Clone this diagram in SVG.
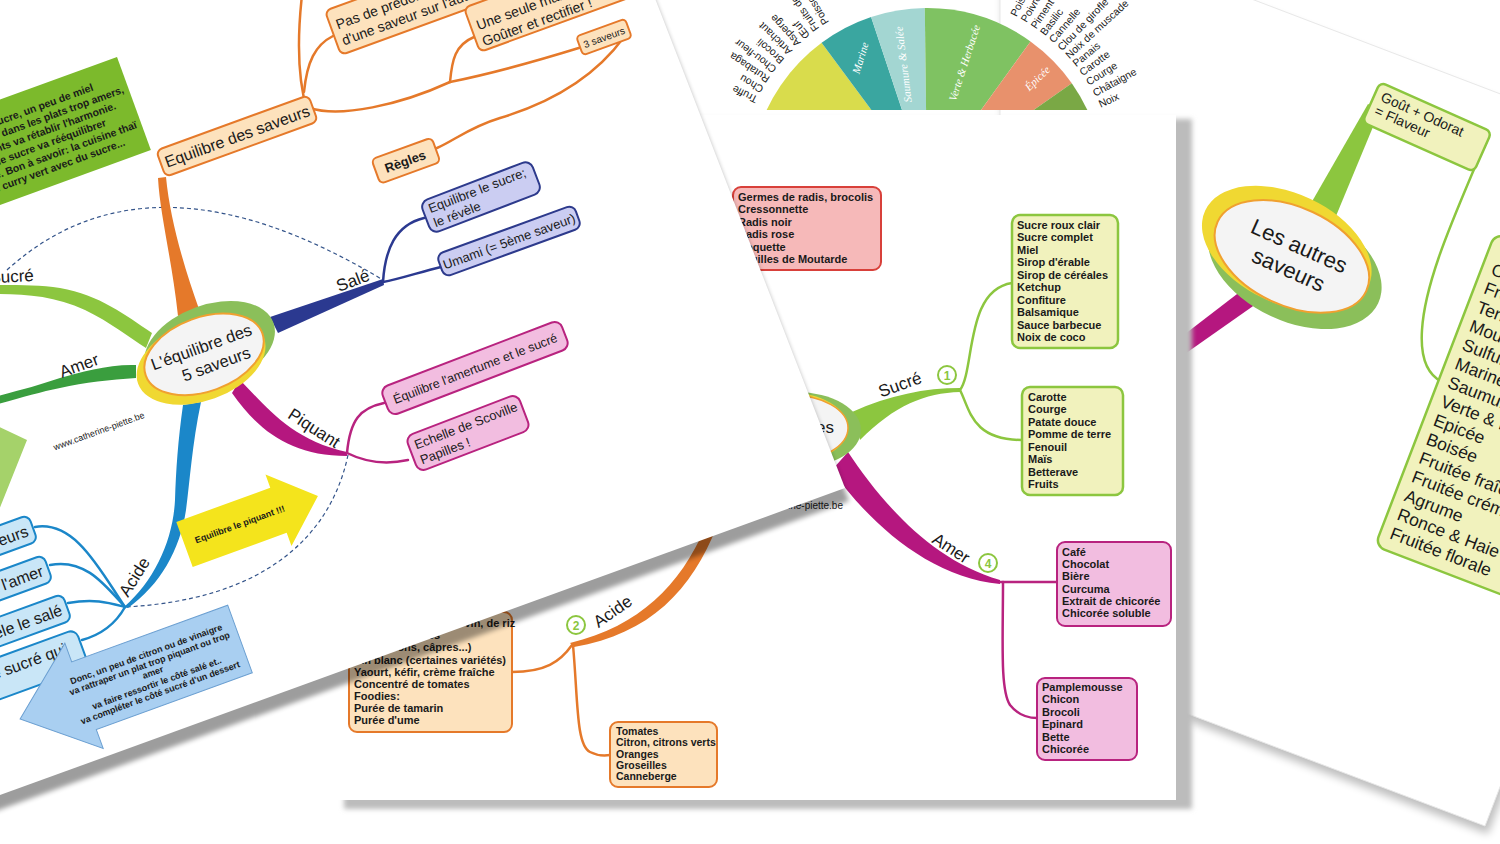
<svg xmlns="http://www.w3.org/2000/svg" width="1500" height="844" viewBox="0 0 1500 844">
<defs>
<style>
text{font-family:"Liberation Sans",Arial,sans-serif;fill:#1a1a1a}
.b{font-weight:bold}
.f11{font-size:11px}
.f13{font-size:13px}
.f14{font-size:14px}
.f17{font-size:17px}
.or{fill:#fde2bd;stroke:#e5792a;stroke-width:2}
.pk{fill:#f2bde0;stroke:#b8237f;stroke-width:2}
.nv{fill:#cbcdf2;stroke:#2d3a8c;stroke-width:2}
.lb{fill:#c9e6f7;stroke:#1b87c9;stroke-width:2}
.yg{fill:#f1f2bd;stroke:#8cc63f;stroke-width:2.5}
.rd{fill:#f6b9b9;stroke:#d8403a;stroke-width:2}
.ln{fill:none;stroke-width:2.5;stroke-linecap:round}
.lo{stroke:#e5792a}.lp{stroke:#b8237f}.ln2{stroke:#2b3990}.lbl{stroke:#1b87c9}.lg{stroke:#8cc63f}
.dash{fill:none;stroke:#34548a;stroke-width:1.2;stroke-dasharray:4 3}
.num{fill:#fff;stroke:#8cc63f;stroke-width:2}
.numt{font-size:12px;font-weight:bold;fill:#8cc63f;text-anchor:middle}
.wl{font-family:"Liberation Serif","Times New Roman",serif;font-size:10.5px;fill:#666}
.ws{font-family:"Liberation Serif","Times New Roman",serif;font-size:11px;font-style:italic;fill:#fff;text-anchor:middle}
.mid{text-anchor:middle}
.end{text-anchor:end}
</style>
<filter id="bl4" x="-10%" y="-10%" width="120%" height="120%"><feGaussianBlur stdDeviation="4"/></filter>
<filter id="bl3" x="-10%" y="-10%" width="120%" height="120%"><feGaussianBlur stdDeviation="2.5"/></filter>
<clipPath id="wclip"><rect x="700" y="0" width="460" height="110"/></clipPath>
<clipPath id="lclip"><polygon points="-30,-30 644,-30 845,488 -30,806"/></clipPath>
<clipPath id="rclip"><polygon points="1000,-97 1600,132 1600,526 1485,826 1000,643"/></clipPath>
</defs>
<rect width="1500" height="844" fill="#fff"/>

<!-- RIGHT PAGE (back) -->
<g id="right-page">
<polygon points="1000,-97 1600,132 1600,526 1485,826 1000,643" fill="#000" opacity="0.25" transform="translate(3,8)" filter="url(#bl4)"/>
<polygon points="1000,-97 1600,132 1600,526 1485,826 1000,643" fill="#fff" stroke="#e8e8e8" stroke-width="1"/>
<g clip-path="url(#rclip)">
<g id="rp-connectors">
<polygon points="1254,281 1266,297 1182,356 1172,344" fill="#b5177f"/>
<polygon points="1306,212 1368,104 1380,110 1336,216" fill="#8cc63f"/>
<path class="ln lg" d="M1480,155 C1455,215 1425,280 1422,330 C1420,360 1428,375 1442,382"/>
</g>
<g id="rp-center" transform="rotate(25,1291,256)">
<ellipse cx="1298" cy="262" rx="92" ry="57" fill="#8bbf5a"/>
<ellipse cx="1284" cy="251" rx="90" ry="55" fill="#f0d832"/>
<ellipse cx="1292" cy="256" rx="82" ry="49" fill="#f4f4f4" stroke="#f0a030" stroke-width="2"/>
</g>
<g transform="rotate(24,1292,262)">
<text x="1292" y="252" class="mid" font-size="22">Les autres</text>
<text x="1292" y="278" class="mid" font-size="22">saveurs</text>
</g>
<g id="rp-flaveur" transform="rotate(24,1427,127)">
<rect x="1366" y="105" width="122" height="44" rx="6" class="yg"/>
<text x="1373" y="122" class="f14">Goût + Odorat</text>
<text x="1373" y="137" class="f14">= Flaveur</text>
</g>
<g id="rp-list" transform="rotate(21,1375,546)">
<rect x="1375" y="211" width="300" height="335" rx="10" class="yg" stroke-width="3"/>
<g font-size="17.5">
<text x="1385" y="251">Carnée</text>
<text x="1385" y="271.2">Fromagère</text>
<text x="1385" y="291.4">Terreuse</text>
<text x="1385" y="311.6">Moutardée</text>
<text x="1385" y="331.8">Sulfureuse</text>
<text x="1385" y="352">Marine</text>
<text x="1385" y="372.2">Saumure &amp; Salée</text>
<text x="1385" y="392.4">Verte &amp; Herbacée</text>
<text x="1385" y="412.6">Epicée</text>
<text x="1385" y="432.8">Boisée</text>
<text x="1385" y="453">Fruitée fraîche</text>
<text x="1385" y="473.2">Fruitée crémeuse</text>
<text x="1385" y="493.4">Agrume</text>
<text x="1385" y="513.6">Ronce &amp; Haie</text>
<text x="1385" y="533.8">Fruitée florale</text>
</g>
</g>
</g>
</g>

<!-- MIDDLE PAGE -->
<g id="middle-page">
<rect x="344" y="119" width="848" height="690" fill="#bcbcbc" filter="url(#bl3)"/>
<rect x="338" y="115" width="838" height="685" fill="#fff"/>
<g id="mp-connectors">
<path d="M852,412 C890,395 925,388 960,388 L960,392 C925,393 895,405 860,440 Z" fill="#8cc63f"/>
<path class="ln lg" d="M960,390 C975,370 965,290 1012,283"/>
<path class="ln lg" d="M960,390 C970,410 972,440 1022,440"/>
<path d="M848,452 C880,500 930,560 1000,580 L1000,584 C930,578 868,522 832,470 Z" fill="#b5177f"/>
<path class="ln lp" d="M1000,582 L1057,582"/>
<path class="ln lp" d="M1003,582 C1003,640 1000,690 1010,705 C1018,715 1028,718 1037,718"/>
<path d="M705,528 L717,526 C692,590 650,634 574,647 L570,643 C640,626 680,585 705,528 Z" fill="#e5792a"/>
<path class="ln lo" d="M572,645 C560,662 545,672 512,672"/>
<path class="ln lo" d="M573,645 C578,700 576,745 590,752 C598,756 604,756 610,755"/>
</g>
<g id="mp-center">
<ellipse cx="797" cy="430" rx="64" ry="38" fill="#8bbf5a"/>
<ellipse cx="786" cy="428" rx="62" ry="36" fill="#f0d832"/>
<ellipse cx="790" cy="428" rx="58" ry="33" fill="#f4f4f4" stroke="#f0a030" stroke-width="1.5"/>
<text x="834" y="433" class="end f17">es</text>
</g>
<g id="mp-sucre-label">
<text x="902" y="390" class="mid f17" transform="rotate(-20,902,390)">Sucré</text>
<circle cx="947" cy="375" r="9" class="num"/><text x="947" y="379.5" class="numt">1</text>
</g>
<g id="mp-amer-label">
<text x="948" y="553" class="mid f17" transform="rotate(33,948,553)">Amer</text>
<circle cx="988" cy="563" r="9" class="num"/><text x="988" y="567.5" class="numt">4</text>
</g>
<g id="mp-acide-label">
<text x="616" y="616" class="mid f17" transform="rotate(-35,616,616)">Acide</text>
<circle cx="576" cy="625" r="9" class="num"/><text x="576" y="629.5" class="numt">2</text>
</g>
<g id="mp-piquant-box">
<rect x="733" y="187" width="148" height="83" rx="8" class="rd"/>
<g class="b f11">
<text x="738" y="201">Germes de radis, brocolis</text>
<text x="738" y="213.4">Cressonnette</text>
<text x="738" y="225.8">Radis noir</text>
<text x="738" y="238.2">Radis rose</text>
<text x="738" y="250.6">Roquette</text>
<text x="738" y="263">Feuilles de Moutarde</text>
</g>
</g>
<g id="mp-sucre-box1">
<rect x="1012" y="215" width="106" height="133" rx="8" class="yg"/>
<g class="b f11">
<text x="1017" y="229">Sucre roux clair</text>
<text x="1017" y="241.4">Sucre complet</text>
<text x="1017" y="253.9">Miel</text>
<text x="1017" y="266.3">Sirop d'érable</text>
<text x="1017" y="278.8">Sirop de céréales</text>
<text x="1017" y="291.2">Ketchup</text>
<text x="1017" y="303.6">Confiture</text>
<text x="1017" y="316.1">Balsamique</text>
<text x="1017" y="328.5">Sauce barbecue</text>
<text x="1017" y="341">Noix de coco</text>
</g>
</g>
<g id="mp-sucre-box2">
<rect x="1022" y="387" width="101" height="108" rx="8" class="yg"/>
<g class="b f11">
<text x="1028" y="401">Carotte</text>
<text x="1028" y="413.4">Courge</text>
<text x="1028" y="425.9">Patate douce</text>
<text x="1028" y="438.3">Pomme de terre</text>
<text x="1028" y="450.7">Fenouil</text>
<text x="1028" y="463.1">Maïs</text>
<text x="1028" y="475.6">Betterave</text>
<text x="1028" y="488">Fruits</text>
</g>
</g>
<g id="mp-amer-box1">
<rect x="1057" y="542" width="114" height="84" rx="8" class="pk"/>
<g class="b f11">
<text x="1062" y="556">Café</text>
<text x="1062" y="568.2">Chocolat</text>
<text x="1062" y="580.4">Bière</text>
<text x="1062" y="592.6">Curcuma</text>
<text x="1062" y="604.8">Extrait de chicorée</text>
<text x="1062" y="617">Chicorée soluble</text>
</g>
</g>
<g id="mp-amer-box2">
<rect x="1037" y="678" width="100" height="82" rx="8" class="pk"/>
<g class="b f11">
<text x="1042" y="691">Pamplemousse</text>
<text x="1042" y="703.4">Chicon</text>
<text x="1042" y="715.8">Brocoli</text>
<text x="1042" y="728.2">Epinard</text>
<text x="1042" y="740.6">Bette</text>
<text x="1042" y="753">Chicorée</text>
</g>
</g>
<g id="mp-acide-box1">
<rect x="349" y="612" width="163" height="120" rx="8" class="or"/>
<g class="b f11">
<text x="354" y="627">Vinaigre de cidre, de vin, de riz</text>
<text x="354" y="639">Autres vinaigres</text>
<text x="354" y="651">(cornichons, câpres...)</text>
<text x="354" y="664">Vin blanc (certaines variétés)</text>
<text x="354" y="676">Yaourt, kéfir, crème fraîche</text>
<text x="354" y="688">Concentré de tomates</text>
<text x="354" y="700">Foodies:</text>
<text x="354" y="712">Purée de tamarin</text>
<text x="354" y="724">Purée d'ume</text>
</g>
</g>
<g id="mp-acide-box2">
<rect x="610" y="722" width="107" height="65" rx="8" class="or"/>
<g class="b" font-size="10.5">
<text x="616" y="735">Tomates</text>
<text x="616" y="746.3">Citron, citrons verts</text>
<text x="616" y="757.6">Oranges</text>
<text x="616" y="768.9">Groseilles</text>
<text x="616" y="780.2">Canneberge</text>
</g>
</g>
<text x="843" y="509" class="end" font-size="10">www.catherine-piette.be</text>
</g>

<!-- WHEEL -->
<g id="wheel" clip-path="url(#wclip)">
<path d="M927,185 L756,139.2 A177,177 0 0 1 821.6,42.8 Z" fill="#d9dc4c"/>
<path d="M927,185 L821.6,42.8 A177,177 0 0 1 871.1,17 Z" fill="#3aa6a0"/>
<path d="M927,185 L871.1,17 A177,177 0 0 1 924.8,8 Z" fill="#a3d6d2"/>
<path d="M927,185 L924.8,8 A177,177 0 0 1 1030.5,41.4 Z" fill="#7fc262"/>
<path d="M927,185 L1030.5,41.4 A177,177 0 0 1 1071.8,83.2 Z" fill="#e8916c"/>
<path d="M927,185 L1071.8,83.2 A177,177 0 0 1 1101.3,154.3 Z" fill="#7aa845"/>
<text x="864" y="59" class="ws" transform="rotate(-73,864,59)">Marine</text>
<text x="907" y="64" class="ws" transform="rotate(-97,907,64)">Saumure &amp; Salée</text>
<text x="968" y="64" class="ws" transform="rotate(-72,968,64)">Verte &amp; Herbacée</text>
<text x="1040" y="81" class="ws" transform="rotate(-44,1040,81)">Épicée</text>
<g class="wl">
<text x="1117" y="188.5" transform="rotate(206.5,927,185)">Truffe</text>
<text x="1117" y="188.5" transform="rotate(210,927,185)">Chou</text>
<text x="1117" y="188.5" transform="rotate(213.5,927,185)">Rutabaga</text>
<text x="1117" y="188.5" transform="rotate(217,927,185)">Chou-fleur</text>
<text x="1117" y="188.5" transform="rotate(220.5,927,185)">Brocoli</text>
<text x="1117" y="188.5" transform="rotate(224,927,185)">Artichaut</text>
<text x="1117" y="188.5" transform="rotate(227.5,927,185)">Asperge</text>
<text x="1117" y="188.5" transform="rotate(231,927,185)">Œuf</text>
<text x="1117" y="188.5" transform="rotate(234.5,927,185)">Fruits de mer</text>
<text x="1117" y="188.5" transform="rotate(238,927,185)">Poisson</text>
<text x="1117" y="188.5" transform="rotate(-25,927,185)">Noix</text>
<text x="1117" y="188.5" transform="rotate(-28.7,927,185)">Châtaigne</text>
<text x="1117" y="188.5" transform="rotate(-32.5,927,185)">Courge</text>
<text x="1117" y="188.5" transform="rotate(-36,927,185)">Carotte</text>
<text x="1117" y="188.5" transform="rotate(-39.3,927,185)">Panais</text>
<text x="1117" y="188.5" transform="rotate(-42.5,927,185)">Noix de muscade</text>
<text x="1117" y="188.5" transform="rotate(-45.8,927,185)">Clou de girofle</text>
<text x="1117" y="188.5" transform="rotate(-49.2,927,185)">Cannelle</text>
<text x="1117" y="188.5" transform="rotate(-52.6,927,185)">Basilic</text>
<text x="1117" y="188.5" transform="rotate(-56,927,185)">Piment</text>
<text x="1117" y="188.5" transform="rotate(-59.5,927,185)">Poivron</text>
<text x="1117" y="188.5" transform="rotate(-63,927,185)">Pois</text>
</g>
</g>

<!-- LEFT PAGE (front) -->
<g id="left-page">
<polygon points="-30,-30 644,-30 845,488 -30,806" fill="#000" opacity="0.38" transform="translate(4,13)" filter="url(#bl3)"/>
<polygon points="-30,-30 644,-30 845,488 -30,806" fill="#fff"/>
<g clip-path="url(#lclip)">
<g id="lp-connectors">
<path class="dash" d="M7,270 Q150,140 383,280"/>
<path class="dash" d="M348,455 C330,540 260,600 125,607"/>
<path d="M178,316 C172,260 160,215 158,178 L166,177 C170,220 185,270 199,309 Z" fill="#e5792a"/>
<path class="ln lo" stroke-width="5" d="M307,110 C298,80 297,40 302,-5"/>
<path class="ln lo" stroke-width="4" d="M304,92 C307,62 315,45 333,36"/>
<path class="ln lo" stroke-width="5" d="M310,108 C340,118 400,105 450,82"/>
<path class="ln lo" stroke-width="4" d="M450,82 C452,60 455,45 474,37"/>
<path class="ln lo" stroke-width="4" d="M450,82 C500,72 540,60 582,47"/>
<path class="ln lo" d="M624,37 C600,70 560,100 500,118 C470,127 455,140 437,148"/>
<path d="M270,317 L383,279 L384,285 L278,333 Z" fill="#2b3990"/>
<path class="ln ln2" d="M383,282 C385,250 395,225 424,218"/>
<path class="ln ln2" d="M383,282 C400,279 420,272 441,267"/>
<path d="M240,380 C265,405 290,440 347,452 L347,456 C290,456 258,430 232,393 Z" fill="#b5177f"/>
<path class="ln lp" d="M347,453 C350,420 360,408 384,403"/>
<path class="ln lp" d="M347,453 C365,462 385,465 408,460"/>
<path d="M152,333 C125,315 100,295 60,288 C40,285 20,285 -5,285 L-5,294 C25,294 55,296 85,310 C110,322 130,338 146,348 Z" fill="#8cc63f"/>
<path d="M136,365 C110,364 80,372 60,378 C40,385 20,390 -5,397 L-5,405 C20,398 40,392 60,388 C85,382 110,380 136,378 Z" fill="#3a9e3e"/>
<path d="M183,405 C178,440 176,470 175,500 C173,540 155,580 124,607 L128,608 C160,585 180,550 186,510 C190,480 192,445 201,402 Z" fill="#1b87c9"/>
<path class="ln lbl" d="M35,527 C75,520 100,570 125,607"/>
<path class="ln lbl" d="M50,565 C85,558 105,585 125,607"/>
<path class="ln lbl" d="M68,603 C95,598 110,603 125,607"/>
<path class="ln lbl" d="M82,640 C100,635 115,625 125,607"/>
</g>
<g id="lp-note-green" transform="rotate(-20,117,57)">
<rect x="-183" y="57" width="300" height="99" fill="#7cba2c"/>
<g class="b end" font-size="10.5">
<text x="84" y="80.5">sucre, un peu de miel</text>
<text x="112" y="93">n dans les plats trop amers,</text>
<text x="99" y="105.5">nts va rétablir l'harmonie.</text>
<text x="84" y="118">de sucre va rééquilibrer</text>
<text x="112" y="130.5">lé. Bon à savoir: la cuisine thaï</text>
<text x="95" y="143">n curry vert avec du sucre...</text>
</g>
</g>
<polygon id="lp-green-shape" points="-5,425 27,440 -5,520" fill="#a5d26a"/>
<g id="lp-center">
<g transform="rotate(-20,205,354)">
<ellipse cx="212" cy="348" rx="68" ry="41" fill="#8bbf5a"/>
<ellipse cx="199" cy="359" rx="67" ry="40" fill="#f0d832"/>
<ellipse cx="204" cy="354" rx="62" ry="37" fill="#f4f4f4" stroke="#f0a030" stroke-width="2"/>
<text x="204" y="352" class="mid" font-size="16.5">L'équilibre des</text>
<text x="212" y="373" class="mid" font-size="16.5">5 saveurs</text>
</g>
</g>
<g id="lp-equilibre" transform="rotate(-20,237,136)">
<rect x="156" y="122" width="162" height="28" rx="6" class="or"/>
<text x="237" y="142" class="mid" font-size="16">Equilibre des saveurs</text>
</g>
<g id="lp-predominance" transform="rotate(-20,341,55)">
<rect x="341" y="8" width="180" height="47" rx="6" class="or"/>
<text x="347" y="30" class="f14">Pas de prédominance</text>
<text x="347" y="47" class="f14">d'une saveur sur l'autre</text>
</g>
<g id="lp-une-seule" transform="rotate(-20,480,52)">
<rect x="480" y="5" width="170" height="47" rx="6" class="or"/>
<text x="486" y="31" class="f14">Une seule manière</text>
<text x="486" y="48" class="f14">Goûter et rectifier !</text>
</g>
<g id="lp-3saveurs" transform="rotate(-20,604,37)">
<rect x="578" y="27" width="52" height="20" rx="4" class="or"/>
<text x="604" y="41" class="mid" font-size="10">3 saveurs</text>
</g>
<g id="lp-regles" transform="rotate(-20,405,161)">
<rect x="374" y="148" width="64" height="26" rx="5" class="or"/>
<text x="405" y="166" class="mid b f13">Règles</text>
</g>
<g id="lp-labels">
<text x="34" y="281" class="end f17" transform="rotate(-3,34,281)">Sucré</text>
<text x="81" y="371" class="mid f17" transform="rotate(-20,81,371)">Amer</text>
<text x="355" y="286" class="mid f17" transform="rotate(-21,355,286)">Salé</text>
<text x="311" y="433" class="mid f17" transform="rotate(33,311,433)">Piquant</text>
<text x="128" y="598" class="f17" transform="rotate(-58,128,598)">Acide</text>
<text x="100" y="434" class="mid" font-size="9" transform="rotate(-20,100,434)">www.catherine-piette.be</text>
</g>
<g id="lp-sale-box1" transform="rotate(-21,481,197)">
<rect x="422" y="180" width="118" height="34" rx="8" class="nv"/>
<text x="428" y="194" class="f13">Equilibre le sucre;</text>
<text x="428" y="209" class="f13">le révèle</text>
</g>
<g id="lp-sale-box2" transform="rotate(-20,509,241)">
<rect x="436" y="229" width="146" height="24" rx="7" class="nv"/>
<text x="509" y="246" class="mid f13">Umami (= 5ème saveur)</text>
</g>
<g id="lp-piquant-box1" transform="rotate(-21,475,368)">
<rect x="379" y="353" width="192" height="30" rx="8" class="pk"/>
<text x="475" y="373" class="mid" font-size="12.5">Équilibre l'amertume et le sucré</text>
</g>
<g id="lp-piquant-box2" transform="rotate(-21,468,433)">
<rect x="408" y="414" width="120" height="38" rx="8" class="pk"/>
<text x="414" y="430" class="f13">Echelle de Scoville</text>
<text x="414" y="446" class="f13">Papilles !</text>
</g>
<g id="lp-acide-box1" transform="rotate(-20,33,528)">
<rect x="-167" y="514" width="200" height="28" rx="7" class="lb"/>
<text x="27" y="534" class="end" font-size="16">saveurs</text>
</g>
<g id="lp-acide-box2" transform="rotate(-20,48,568)">
<rect x="-152" y="554" width="200" height="28" rx="7" class="lb"/>
<text x="42" y="574" class="end" font-size="16">et l'amer</text>
</g>
<g id="lp-acide-box3" transform="rotate(-20,67,607)">
<rect x="-133" y="593" width="200" height="28" rx="7" class="lb"/>
<text x="61" y="613" class="end" font-size="16">Révèle le salé</text>
</g>
<g id="lp-acide-box4" transform="rotate(-20,82,647)">
<rect x="-168" y="628" width="250" height="40" rx="8" class="lb"/>
<text x="66" y="648" class="end" font-size="16">le sucré qui</text>
</g>
<g id="lp-arrow-yellow">
<polygon points="0,-24 100,-24 100,-38 142,0 100,38 100,24 0,24" fill="#f4e41c" transform="translate(184.5,544.5) rotate(-20)"/>
<text x="59" y="3" class="mid b" font-size="9" transform="translate(184.5,544.5) rotate(-20)">Equilibre le piquant !!!</text>
</g>
<g id="lp-arrow-blue">
<polygon points="0,-36 166,-36 166,-56 234,0 166,56 166,36 0,36" fill="#a9cff1" stroke="#6b9fd1" stroke-width="1" transform="translate(240,639) rotate(160)"/>
<g class="mid b" font-size="9" transform="rotate(-20,153,673)">
<text x="153" y="656">Donc, un peu de citron ou de vinaigre</text>
<text x="153" y="666">va rattraper un plat trop piquant ou trop</text>
<text x="153" y="675.5">amer</text>
<text x="153" y="687">va faire ressortir le côté salé et..</text>
<text x="153" y="697">va compléter le côté sucré d'un dessert</text>
</g>
</g>
</g>
</g>
</svg>
